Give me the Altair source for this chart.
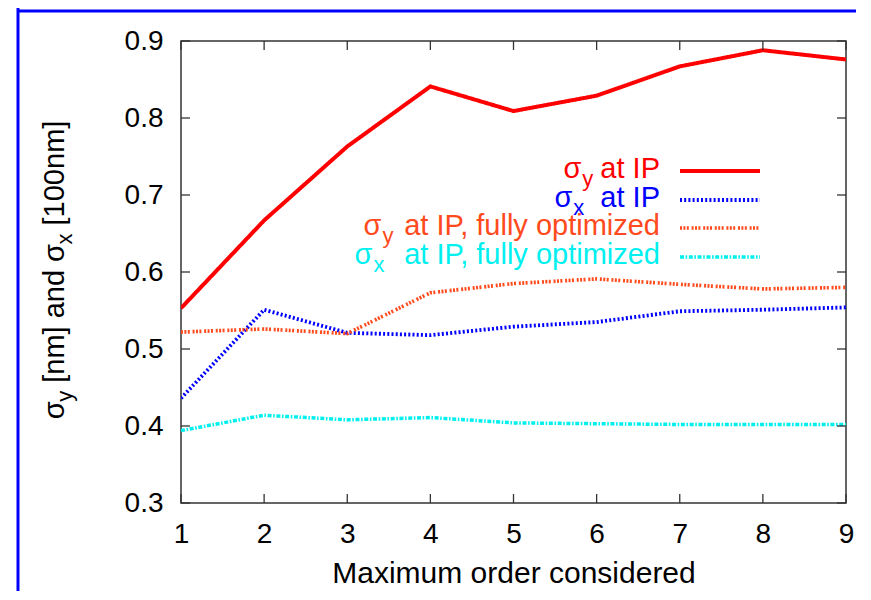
import altair as alt
import pandas as pd

# ---------------- data ----------------
orders = [1, 2, 3, 4, 5, 6, 7, 8, 9]
sigma_y_ip = [0.553, 0.667, 0.763, 0.841, 0.809, 0.829, 0.867, 0.888, 0.876]
sigma_x_ip = [0.436, 0.551, 0.521, 0.518, 0.529, 0.535, 0.549, 0.551, 0.554]
sigma_y_opt = [0.522, 0.526, 0.520, 0.573, 0.585, 0.591, 0.584, 0.578, 0.580]
sigma_x_opt = [0.394, 0.414, 0.408, 0.411, 0.404, 0.403, 0.402, 0.402, 0.402]

series_keys = ["sy_ip", "sx_ip", "sy_opt", "sx_opt"]
series_sub = ["y", "x", "y", "x"]
series_rest = ["at IP", "at IP", "at IP, fully optimized", "at IP, fully optimized"]
series_colors = ["#ff0000", "#0000ff", "#ff4a1c", "#00f0f0"]
series_dash = [[1, 0], [2, 2.2], [2, 1.4, 2, 1.4, 2, 2.8], [4, 1.6, 1.6, 1.6]]
series_width = [4, 3.5, 3.5, 3.5]

x_ticks = [1, 2, 3, 4, 5, 6, 7, 8, 9]
y_ticks = [0.3, 0.4, 0.5, 0.6, 0.7, 0.8, 0.9]
x_title = "Maximum order considered"

# ---------------- layout / style ----------------
W, H = 665, 462
FONT = "Liberation Sans"
FS = 28          # tick labels
FS_T = 29        # legend / y title
FS_SUB = 22
TICK = 9
FRAME = "#333333"

# Arial / Liberation Sans advance widths (per 1000 em)
AW = {' ': 278, 'a': 556, 't': 278, 'I': 278, 'P': 667, ',': 278, 'f': 278,
      'u': 556, 'l': 222, 'y': 500, 'o': 556, 'p': 556, 'i': 222, 'm': 833,
      'z': 500, 'e': 556, 'd': 556, 'x': 500, '[': 278, ']': 278, 'n': 556,
      '1': 556, '0': 556, 'σ': 570}


def tw(s, fs):
    return sum(AW.get(c, 556) for c in s) * fs / 1000.0


xscale = alt.Scale(domain=[1, 9], nice=False, zero=False)
yscale = alt.Scale(domain=[0.3, 0.9], nice=False, zero=False)
cscale = alt.Scale(domain=series_keys, range=series_colors)
dscale = alt.Scale(domain=series_keys, range=series_dash)
wscale = alt.Scale(domain=series_keys, range=series_width)

rows = []
for key, vals in zip(series_keys, [sigma_y_ip, sigma_x_ip, sigma_y_opt, sigma_x_opt]):
    for o, v in zip(orders, vals):
        rows.append({"series": key, "order": o, "sigma": v})
df = pd.DataFrame(rows)

xaxis = alt.Axis(values=x_ticks, format="d", ticks=False, domain=False, grid=False,
                 labelFont=FONT, labelFontSize=FS, labelColor="black", labelPadding=17,
                 labelFlush=False, labelOverlap=False,
                 title=x_title, titleFont=FONT, titleFontSize=30, titleFontWeight="normal",
                 titleColor="black", titlePadding=10)
yaxis = alt.Axis(values=y_ticks, format=".1f", ticks=False, domain=False, grid=False,
                 labelFont=FONT, labelFontSize=FS, labelColor="black", labelPadding=18,
                 labelFlush=False, labelOverlap=False, title=None)

lines = alt.Chart(df).mark_line(clip=True).encode(
    x=alt.X("order:Q", scale=xscale, axis=xaxis, title=x_title),
    y=alt.Y("sigma:Q", scale=yscale, axis=yaxis, title=None),
    color=alt.Color("series:N", scale=cscale, legend=None),
    strokeDash=alt.StrokeDash("series:N", scale=dscale, legend=None),
    strokeWidth=alt.StrokeWidth("series:N", scale=wscale, legend=None),
    order=alt.Order("order:Q"),
)

# inward ticks on all four sides
ydf = pd.DataFrame({"v": y_ticks})
xdf = pd.DataFrame({"v": x_ticks})
tick_left = alt.Chart(ydf).mark_rule(color=FRAME, strokeWidth=1.3).encode(
    y=alt.Y("v:Q", scale=yscale, axis=yaxis, title=None), x=alt.value(0), x2=alt.value(TICK))
tick_right = alt.Chart(ydf).mark_rule(color=FRAME, strokeWidth=1.3).encode(
    y=alt.Y("v:Q", scale=yscale, axis=yaxis, title=None), x=alt.value(W - TICK), x2=alt.value(W))
tick_bottom = alt.Chart(xdf).mark_rule(color=FRAME, strokeWidth=1.3).encode(
    x=alt.X("v:Q", scale=xscale, axis=xaxis, title=x_title), y=alt.value(H - TICK), y2=alt.value(H))
tick_top = alt.Chart(xdf).mark_rule(color=FRAME, strokeWidth=1.3).encode(
    x=alt.X("v:Q", scale=xscale, axis=xaxis, title=x_title), y=alt.value(0), y2=alt.value(TICK))

# ---------------- custom legend (text right, sample line left) ----------------
leg_y = [130, 159, 187, 216]
leg_right = 479
leg_x0, leg_x1 = 499, 579
gaps = [7, 16, 7, 16]
sample_rows = []
text_rows = []
for i, key in enumerate(series_keys):
    y = leg_y[i]
    sample_rows.append({"series": key, "ly": y, "lx0": leg_x0, "lx1": leg_x1})
    base = y + 7
    r = leg_right
    text_rows.append({"px": r, "py": base, "txt": series_rest[i], "col": series_colors[i], "fs": FS_T})
    r -= tw(series_rest[i], FS_T) + gaps[i]
    text_rows.append({"px": r, "py": base + 8, "txt": series_sub[i], "col": series_colors[i], "fs": FS_SUB})
    r -= tw(series_sub[i], FS_SUB) + 1
    text_rows.append({"px": r, "py": base, "txt": "σ", "col": series_colors[i], "fs": FS_T})
sample_df = pd.DataFrame(sample_rows)
text_df = pd.DataFrame(text_rows)

leg_lines = alt.Chart(sample_df).mark_rule().encode(
    x=alt.X("lx0:Q", scale=None), x2="lx1:Q",
    y=alt.Y("ly:Q", scale=None),
    color=alt.Color("series:N", scale=cscale, legend=None),
    strokeDash=alt.StrokeDash("series:N", scale=dscale, legend=None),
    strokeWidth=alt.StrokeWidth("series:N", scale=wscale, legend=None),
)
leg_text = alt.Chart(text_df).mark_text(align="right", baseline="alphabetic", font=FONT).encode(
    x=alt.X("px:Q", scale=None),
    y=alt.Y("py:Q", scale=None),
    text="txt:N",
    color=alt.Color("col:N", scale=None),
    size=alt.Size("fs:Q", scale=None),
)

# ---------------- rotated y title with subscripts ----------------
yt_pieces = [("σ", False, 0), ("y", True, 1), ("[nm] and", False, 8), ("σ", False, 8),
             ("x", True, 1), ("[100nm]", False, 8)]
total = 0
for t, sub, g in yt_pieces:
    total += g + tw(t, FS_SUB if sub else FS_T)
start = 229 + total / 2
yt_rows = []
cur = 0
for t, sub, g in yt_pieces:
    cur += g
    yt_rows.append({"px": -117 + (8 if sub else 0), "py": start - cur, "txt": t,
                    "fs": FS_SUB if sub else FS_T})
    cur += tw(t, FS_SUB if sub else FS_T)
yt_df = pd.DataFrame(yt_rows)
ytitle = alt.Chart(yt_df).mark_text(align="left", baseline="alphabetic", angle=270,
                                     font=FONT, color="black").encode(
    x=alt.X("px:Q", scale=None),
    y=alt.Y("py:Q", scale=None),
    text="txt:N",
    size=alt.Size("fs:Q", scale=None),
)

# ---------------- blue figure frame ----------------
one = pd.DataFrame({"k": [0]})
frame_left = alt.Chart(one).mark_rule(color="#0000ff", strokeWidth=3).encode(
    x=alt.value(-163), y=alt.value(-40), y2=alt.value(H + 140))
frame_top = alt.Chart(one).mark_rule(color="#0000ff", strokeWidth=3).encode(
    y=alt.value(-30), x=alt.value(-164), x2=alt.value(W + 60))

chart = alt.layer(
    lines, tick_left, tick_right, tick_bottom, tick_top,
    frame_left, frame_top, leg_lines, leg_text, ytitle,
).properties(
    width=W, height=H,
    autosize=alt.AutoSizeParams(type="none"),
    padding={"left": 173, "top": 33, "right": 10, "bottom": 88},
).configure_view(stroke=FRAME, strokeWidth=1.5)

chart.save("out.html", embed_options={"renderer": "svg", "actions": False})
